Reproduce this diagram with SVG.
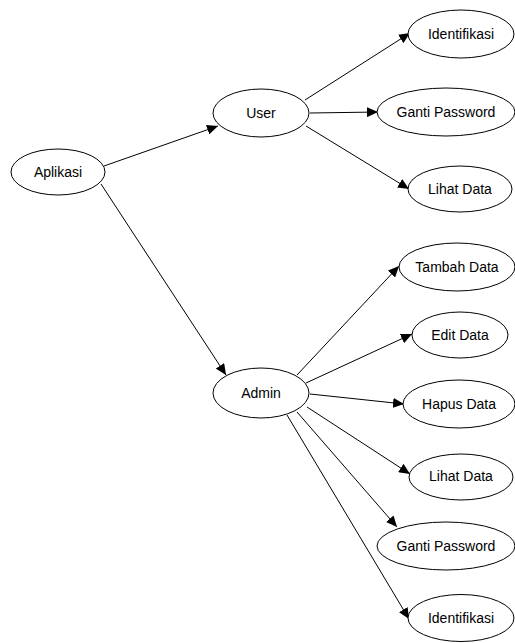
<svg xmlns="http://www.w3.org/2000/svg" width="515" height="643" viewBox="0 0 515 643">
<style>
.n ellipse{fill:#fff;stroke:#000;stroke-width:1}
.n text{font-family:"Liberation Sans",Arial,sans-serif;font-size:14px;fill:#000;text-anchor:middle;dominant-baseline:central}
.e line{stroke:#000;stroke-width:1;marker-end:url(#ah)}
</style>
<defs>
<marker id="ah" markerUnits="userSpaceOnUse" markerWidth="12" markerHeight="10" refX="11" refY="5" orient="auto">
<path d="M0,0 L11,5 L0,10 Z" fill="#000"/>
</marker>
</defs>
<rect width="515" height="643" fill="#fff"/>
<g id="connectors" class="e">
<line x1="104" y1="166" x2="218" y2="126"/>
<line x1="101" y1="184" x2="226" y2="375"/>
<line x1="305" y1="100" x2="410" y2="33"/>
<line x1="310" y1="113" x2="378" y2="112"/>
<line x1="306" y1="126" x2="409" y2="189"/>
<line x1="297" y1="375" x2="399" y2="266"/>
<line x1="306" y1="383" x2="412" y2="334"/>
<line x1="310" y1="394" x2="404" y2="404"/>
<line x1="307" y1="407" x2="410" y2="474"/>
<line x1="297" y1="412" x2="397" y2="527"/>
<line x1="287" y1="415" x2="409" y2="619"/>
</g>
<g id="aplikasi" class="n"><ellipse cx="58" cy="172" rx="47" ry="23"/><text x="58" y="172">Aplikasi</text></g>
<g id="user" class="n"><ellipse cx="261" cy="113" rx="48" ry="24"/><text x="261" y="113">User</text></g>
<g id="admin" class="n"><ellipse cx="261" cy="393" rx="48" ry="25"/><text x="261" y="393">Admin</text></g>
<g id="identifikasi1" class="n"><ellipse cx="461" cy="34" rx="53" ry="24"/><text x="461" y="34">Identifikasi</text></g>
<g id="gantipassword1" class="n"><ellipse cx="446" cy="112" rx="69" ry="24"/><text x="446" y="112">Ganti Password</text></g>
<g id="lihatdata1" class="n"><ellipse cx="460" cy="189" rx="52" ry="23"/><text x="460" y="189">Lihat Data</text></g>
<g id="tambahdata" class="n"><ellipse cx="457" cy="267" rx="58" ry="24"/><text x="457" y="267">Tambah Data</text></g>
<g id="editdata" class="n"><ellipse cx="460" cy="335" rx="48" ry="23"/><text x="460" y="335">Edit Data</text></g>
<g id="hapusdata" class="n"><ellipse cx="459" cy="404" rx="56" ry="24"/><text x="459" y="404">Hapus Data</text></g>
<g id="lihatdata2" class="n"><ellipse cx="461" cy="477" rx="52" ry="23"/><text x="461" y="476">Lihat Data</text></g>
<g id="gantipassword2" class="n"><ellipse cx="446" cy="546" rx="69" ry="24"/><text x="446" y="546">Ganti Password</text></g>
<g id="identifikasi2" class="n"><ellipse cx="461" cy="618" rx="53" ry="23.5"/><text x="461" y="618">Identifikasi</text></g>
</svg>
